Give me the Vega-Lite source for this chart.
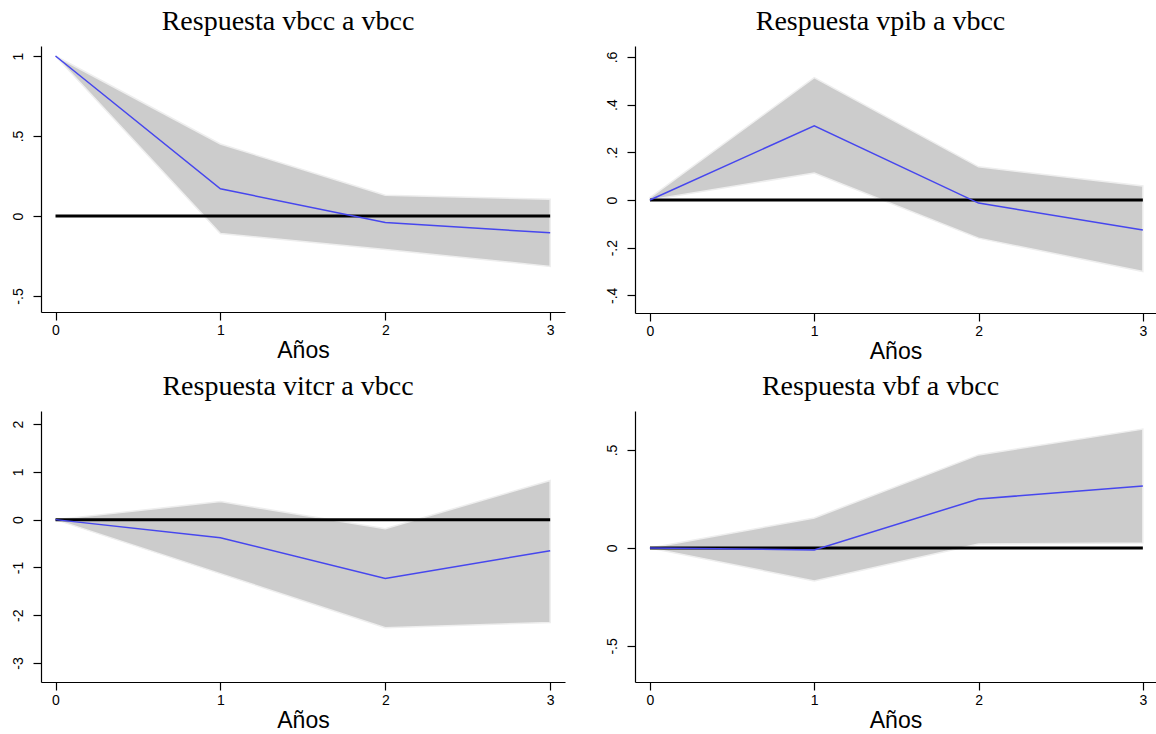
{
  "$schema": "https://vega.github.io/schema/vega-lite/v6.json",
  "background": "white",
  "padding": {"left": 11, "top": 8, "right": 0, "bottom": 0},
  "datasets": {
    "irf": [
      {"panel": "vbcc", "step": 0, "irf": 1, "lo": 1, "hi": 1},
      {"panel": "vbcc", "step": 1, "irf": 0.17, "lo": -0.11, "hi": 0.45},
      {"panel": "vbcc", "step": 2, "irf": -0.04, "lo": -0.21, "hi": 0.13},
      {"panel": "vbcc", "step": 3, "irf": -0.105, "lo": -0.315, "hi": 0.105},
      {"panel": "vpib", "step": 0, "irf": 0, "lo": 0, "hi": 0.01},
      {"panel": "vpib", "step": 1, "irf": 0.311, "lo": 0.113, "hi": 0.513},
      {"panel": "vpib", "step": 2, "irf": -0.013, "lo": -0.16, "hi": 0.139},
      {"panel": "vpib", "step": 3, "irf": -0.126, "lo": -0.3, "hi": 0.059},
      {"panel": "vitcr", "step": 0, "irf": 0, "lo": 0, "hi": 0},
      {"panel": "vitcr", "step": 1, "irf": -0.377, "lo": -1.13, "hi": 0.377},
      {"panel": "vitcr", "step": 2, "irf": -1.23, "lo": -2.26, "hi": -0.19},
      {"panel": "vitcr", "step": 3, "irf": -0.65, "lo": -2.15, "hi": 0.82},
      {"panel": "vbf", "step": 0, "irf": 0, "lo": 0, "hi": 0},
      {"panel": "vbf", "step": 1, "irf": -0.01, "lo": -0.168, "hi": 0.153},
      {"panel": "vbf", "step": 2, "irf": 0.25, "lo": 0.02, "hi": 0.475},
      {"panel": "vbf", "step": 3, "irf": 0.316, "lo": 0.026, "hi": 0.607}
    ]
  },
  "data": {"name": "irf"},
  "columns": 2,
  "spacing": {"row": 10, "column": 40},
  "concat": [
    {
      "title": "Respuesta vbcc a vbcc",
      "width": 524, "height": 266,
      "layer": [
        {
          "transform": [{"filter": "datum.panel == 'vbcc'"}],
          "mark": {"type": "area", "color": "#cccccc", "stroke": "#eeeeee", "strokeWidth": 1.5},
          "encoding": {
            "x": {"field": "step", "type": "quantitative", "title": "Años", "scale": {"domain": [-0.088, 3.09], "nice": false, "zero": false}, "axis": {"values": [0, 1, 2, 3], "format": "d"}},
            "y": {"field": "lo", "type": "quantitative", "title": null, "scale": {"domain": [-0.6, 1.0625], "nice": false, "zero": false}, "axis": {"values": [-0.5, 0, 0.5, 1], "labelExpr": "replace(toString(datum.value), '0.', '.')"}},
            "y2": {"field": "hi"}
          }
        },
        {
          "data": {"values": [{}]},
          "mark": {"type": "rule", "color": "black", "strokeWidth": 3},
          "encoding": {"x": {"datum": 0}, "x2": {"datum": 3}, "y": {"datum": 0}}
        },
        {
          "transform": [{"filter": "datum.panel == 'vbcc'"}],
          "mark": {"type": "line", "color": "#4646ee", "strokeWidth": 1.5},
          "encoding": {
            "x": {"field": "step", "type": "quantitative", "title": "Años"},
            "y": {"field": "irf", "type": "quantitative", "title": null}
          }
        }
      ]
    },
    {
      "title": "Respuesta vpib a vbcc",
      "width": 521, "height": 267,
      "layer": [
        {
          "transform": [{"filter": "datum.panel == 'vpib'"}],
          "mark": {"type": "area", "color": "#cccccc", "stroke": "#eeeeee", "strokeWidth": 1.5},
          "encoding": {
            "x": {"field": "step", "type": "quantitative", "title": "Años", "scale": {"domain": [-0.091, 3.08], "nice": false, "zero": false}, "axis": {"values": [0, 1, 2, 3], "format": "d"}},
            "y": {"field": "lo", "type": "quantitative", "title": null, "scale": {"domain": [-0.474, 0.646], "nice": false, "zero": false}, "axis": {"values": [-0.4, -0.2, 0, 0.2, 0.4, 0.6], "labelExpr": "replace(toString(datum.value), '0.', '.')"}},
            "y2": {"field": "hi"}
          }
        },
        {
          "data": {"values": [{}]},
          "mark": {"type": "rule", "color": "black", "strokeWidth": 3},
          "encoding": {"x": {"datum": 0}, "x2": {"datum": 3}, "y": {"datum": 0}}
        },
        {
          "transform": [{"filter": "datum.panel == 'vpib'"}],
          "mark": {"type": "line", "color": "#4646ee", "strokeWidth": 1.5},
          "encoding": {
            "x": {"field": "step", "type": "quantitative", "title": "Años"},
            "y": {"field": "irf", "type": "quantitative", "title": null}
          }
        }
      ]
    },
    {
      "title": "Respuesta vitcr a vbcc",
      "width": 524, "height": 271,
      "layer": [
        {
          "transform": [{"filter": "datum.panel == 'vitcr'"}],
          "mark": {"type": "area", "color": "#cccccc", "stroke": "#eeeeee", "strokeWidth": 1.5},
          "encoding": {
            "x": {"field": "step", "type": "quantitative", "title": "Años", "scale": {"domain": [-0.088, 3.09], "nice": false, "zero": false}, "axis": {"values": [0, 1, 2, 3], "format": "d"}},
            "y": {"field": "lo", "type": "quantitative", "title": null, "scale": {"domain": [-3.396, 2.272], "nice": false, "zero": false}, "axis": {"values": [-3, -2, -1, 0, 1, 2], "labelExpr": "replace(toString(datum.value), '0.', '.')"}},
            "y2": {"field": "hi"}
          }
        },
        {
          "data": {"values": [{}]},
          "mark": {"type": "rule", "color": "black", "strokeWidth": 3},
          "encoding": {"x": {"datum": 0}, "x2": {"datum": 3}, "y": {"datum": 0}}
        },
        {
          "transform": [{"filter": "datum.panel == 'vitcr'"}],
          "mark": {"type": "line", "color": "#4646ee", "strokeWidth": 1.5},
          "encoding": {
            "x": {"field": "step", "type": "quantitative", "title": "Años"},
            "y": {"field": "irf", "type": "quantitative", "title": null}
          }
        }
      ]
    },
    {
      "title": "Respuesta vbf a vbcc",
      "width": 521, "height": 271,
      "layer": [
        {
          "transform": [{"filter": "datum.panel == 'vbf'"}],
          "mark": {"type": "area", "color": "#cccccc", "stroke": "#eeeeee", "strokeWidth": 1.5},
          "encoding": {
            "x": {"field": "step", "type": "quantitative", "title": "Años", "scale": {"domain": [-0.091, 3.08], "nice": false, "zero": false}, "axis": {"values": [0, 1, 2, 3], "format": "d"}},
            "y": {"field": "lo", "type": "quantitative", "title": null, "scale": {"domain": [-0.684, 0.699], "nice": false, "zero": false}, "axis": {"values": [-0.5, 0, 0.5], "labelExpr": "replace(toString(datum.value), '0.', '.')"}},
            "y2": {"field": "hi"}
          }
        },
        {
          "data": {"values": [{}]},
          "mark": {"type": "rule", "color": "black", "strokeWidth": 3},
          "encoding": {"x": {"datum": 0}, "x2": {"datum": 3}, "y": {"datum": 0}}
        },
        {
          "transform": [{"filter": "datum.panel == 'vbf'"}],
          "mark": {"type": "line", "color": "#4646ee", "strokeWidth": 1.5},
          "encoding": {
            "x": {"field": "step", "type": "quantitative", "title": "Años"},
            "y": {"field": "irf", "type": "quantitative", "title": null}
          }
        }
      ]
    }
  ],
  "config": {
    "view": {"stroke": null},
    "axis": {
      "grid": false,
      "domainColor": "black",
      "domainWidth": 1.2,
      "tickColor": "black",
      "tickWidth": 1.2,
      "tickSize": 8,
      "labelColor": "black",
      "labelFont": "Liberation Sans",
      "labelFontSize": 14,
      "titleFont": "Liberation Sans",
      "titleFontSize": 23,
      "titleFontWeight": "normal",
      "titleColor": "black"
    },
    "axisX": {"labelPadding": 3, "titlePadding": 2, "labelAngle": 0},
    "axisY": {"labelAngle": -90, "labelAlign": "center", "labelBaseline": "bottom", "labelPadding": 8},
    "title": {"font": "Liberation Serif", "fontSize": 28, "fontWeight": "normal", "color": "black", "anchor": "middle", "frame": "bounds", "offset": 10}
  }
}
